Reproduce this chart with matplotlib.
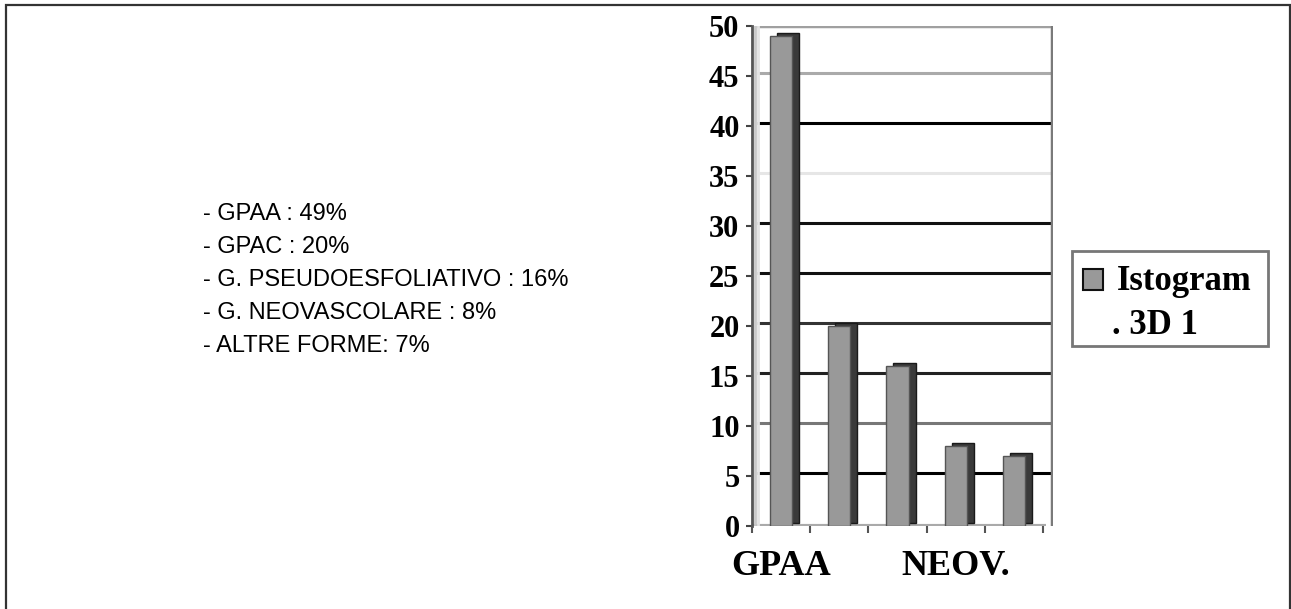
import matplotlib.pyplot as plt
from matplotlib.patches import Rectangle
from matplotlib.transforms import ScaledTranslation

# --- dati ---
categorie = ['GPAA', 'GPAC', 'G. PSEUDOESFOLIATIVO', 'G. NEOVASCOLARE', 'ALTRE FORME']
etichette_x = ['GPAA', '', '', 'NEOV.', '']
percentuali = [49, 20, 16, 8, 7]
righe_testo = [
    '- GPAA : 49%',
    '- GPAC : 20%',
    '- G. PSEUDOESFOLIATIVO : 16%',
    '- G. NEOVASCOLARE : 8%',
    '- ALTRE FORME: 7%',
]
tick_y = [0, 5, 10, 15, 20, 25, 30, 35, 40, 45, 50]
legenda = 'Istogram\n. 3D 1'

W, H, DPI = 1291, 609, 100
sans = 'Liberation Sans'
serif = 'Liberation Serif'

fig = plt.figure(figsize=(W / DPI, H / DPI), dpi=DPI)
px = lambda x, y: (x / W, 1 - y / H)

# cornice esterna
fig.patches.append(Rectangle(px(6, 640), (1290 - 6) / W, (640 - 5) / H,
                             transform=fig.transFigure, fill=False,
                             edgecolor='#333333', linewidth=1.6))

# testo a sinistra
for i, riga in enumerate(righe_testo):
    fig.text(*px(203, 214 + 33 * i), riga, family=sans, fontsize=17,
             va='center', ha='left', color='black')

# grafico
l, t, r, b = 752, 26, 1053, 526
ax = fig.add_axes([l / W, 1 - b / H, (r - l) / W, (b - t) / H])
ax.set_xlim(0, 5.17)
ax.set_ylim(0, 50)

off_grid = ax.transData + ScaledTranslation(0, 3 / DPI, fig.dpi_scale_trans)
colori_griglia = ['#888888', '#000000', '#777777', '#222222', '#333333',
                  '#111111', '#111111', '#e6e6e6', '#000000', '#aaaaaa']
ax.hlines(tick_y[1:-1], 0.09, 5.17, colors=colori_griglia[1:], linewidth=2.2,
          transform=off_grid, zorder=1)
ax.hlines([0], 0.02, 5.05, colors='#aaaaaa', linewidth=3, zorder=1)
ax.axhline(50, xmin=0.02, color='#a0a0a0', linewidth=2.5, zorder=1)
ax.axvline(5.15, color='#7a7a7a', linewidth=2.5, zorder=1)
ax.axvline(0.06, color='#c8c8c8', linewidth=2, zorder=1)
ax.axvline(0.11, color='#e4e4e4', linewidth=2, zorder=1)

# barre 3D: ombra spostata + faccia frontale
x = [i + 0.5 for i in range(len(percentuali))]
off_bar = ax.transData + ScaledTranslation(7 / DPI, 3 / DPI, fig.dpi_scale_trans)
ax.bar(x, percentuali, width=0.38, color='#3a3a3a', edgecolor='#1a1a1a',
       linewidth=1, transform=off_bar, zorder=2)
ax.bar(x, percentuali, width=0.38, color='#999999', edgecolor='#555555',
       linewidth=1, zorder=3)

for s in ['top', 'right', 'bottom']:
    ax.spines[s].set_visible(False)
ax.spines['left'].set_color('#555555')
ax.spines['left'].set_linewidth(2)

ax.set_yticks(tick_y)
ax.set_yticklabels([str(v) for v in tick_y], family=serif, weight='bold',
                   fontsize=22)
ax.tick_params(axis='y', direction='out', length=4, width=1.5,
               color='#444444', pad=5)
ax.set_xticks(range(6))
ax.set_xticklabels([])
ax.tick_params(axis='x', which='major', direction='out', length=5, width=1.5,
               color='#555555')
ax.set_xticks(x, minor=True)
ax.set_xticklabels(etichette_x, minor=True, family=serif, weight='bold',
                   fontsize=26)
ax.tick_params(axis='x', which='minor', length=0, pad=17)

# legenda
fig.patches.append(Rectangle(px(1072, 346), (1268 - 1072) / W, (346 - 251) / H,
                             transform=fig.transFigure, fill=False,
                             edgecolor='#777777', linewidth=2))
fig.patches.append(Rectangle(px(1083, 290), 20 / W, 21 / H,
                             transform=fig.transFigure, facecolor='#999999',
                             edgecolor='#111111', linewidth=1.5))
fig.text(*px(1117, 281), legenda.split('\n')[0], family=serif, weight='bold',
         fontsize=25, va='center', ha='left')
fig.text(*px(1112, 326), legenda.split('\n')[1], family=serif, weight='bold',
         fontsize=25, va='center', ha='left')

fig.savefig('out.png', dpi=DPI, facecolor='white')
